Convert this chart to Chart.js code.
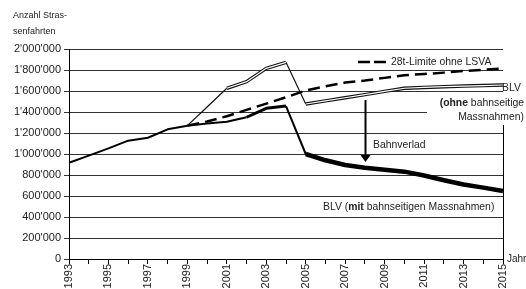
<!DOCTYPE html>
<html>
<head>
<meta charset="utf-8">
<script src="https://cdn.jsdelivr.net/npm/chart.js@4"></script>
<style>
  html, body { margin: 0; padding: 0; background: #fff; }
  #wrap { position: relative; width: 526px; height: 289px; }
</style>
</head>
<body>
<div id="wrap"><canvas id="lsvaChart" width="526" height="289"></canvas></div>
<script>
const years = ["1993","1994","1995","1996","1997","1998","1999","2000","2001","2002","2003","2004",
  "2005","2006","2007","2008","2009","2010","2011","2012","2013","2014","2015"];

// common history 1993-1999
const basis = [917000, 984000, 1054000, 1127000, 1155000, 1235000, 1270000,
  null, null, null, null, null, null, null, null, null, null, null, null, null, null, null, null];

const limite28t = [null, null, null, null, null, null, 1270000, 1310000, 1360000, 1420000, 1480000, 1540000,
  1605000, 1645000, 1680000, 1700000, 1725000, 1750000, 1762000, 1775000, 1790000, 1802000, 1815000];

const blvOhne = [null, null, null, null, null, null, 1270000, 1448000, 1626000, 1689000, 1816000, 1873000,
  1476000, 1506000, 1536000, 1566000, 1596000, 1626000, 1634000, 1641000, 1647000, 1652000, 1657000];

const blvMit = [null, null, null, null, null, null, 1270000, 1290000, 1308000, 1350000, 1435000, 1457000,
  1000000, 940000, 895000, 870000, 850000, 832000, 795000, 750000, 710000, 680000, 648000];

const yTicks = [0, 200000, 400000, 600000, 800000, 1000000, 1200000, 1400000, 1600000, 1800000, 2000000];

const FONT = "'Liberation Sans', Arial, sans-serif";
const NOTE = 10.4; // size of the notes inside the plot
const fmt = (v) => v.toString().replace(/\B(?=(\d{3})+(?!\d))/g, "'");

const labelsPlugin = {
  id: "labels",
  afterDraw(chart) {
    const ctx = chart.ctx;
    const x = chart.scales.x;
    const y = chart.scales.y;
    const area = chart.chartArea;
    ctx.save();

    // white box behind the "ohne" note, hides grid and right border
    ctx.fillStyle = "#fff";
    ctx.fillRect(427, 95, 99, 30);

    // right border below the note
    ctx.strokeStyle = "#000";
    ctx.lineWidth = 1;
    ctx.beginPath();
    ctx.moveTo(area.right + 0.5, 125);
    ctx.lineTo(area.right + 0.5, area.bottom);
    ctx.stroke();

    ctx.fillStyle = "#222";
    ctx.textBaseline = "middle";
    ctx.font = "9px " + FONT;
    ctx.textAlign = "left";
    ctx.fillText("Anzahl Stras-", 13, 16);
    ctx.fillText("senfahrten", 13, 32);
    ctx.font = "10px " + FONT;
    ctx.fillText("Jahr", area.right + 4, area.bottom);

    // legend for dashed line
    ctx.font = NOTE + "px " + FONT;
    ctx.strokeStyle = "#000";
    ctx.lineWidth = 2.5;
    ctx.setLineDash([12, 4]);
    ctx.beginPath();
    ctx.moveTo(358, 62);
    ctx.lineTo(389, 62);
    ctx.stroke();
    ctx.setLineDash([]);
    ctx.fillText("28t-Limite ohne LSVA", 391, 62);

    ctx.fillText("BLV", 502, 88);
    ctx.textAlign = "right";
    ctx.fillText("Massnahmen)", 524, 117);
    const rest = " bahnseitige";
    const restW = ctx.measureText(rest).width;
    ctx.fillText(rest, 524, 103);
    ctx.font = "bold " + NOTE + "px " + FONT;
    ctx.fillText("(ohne", 524 - restW, 103);

    // BLV mit
    ctx.textAlign = "left";
    ctx.font = NOTE + "px " + FONT;
    let px = 323;
    const py = 207;
    ctx.fillText("BLV (", px, py);
    px += ctx.measureText("BLV (").width;
    ctx.font = "bold " + NOTE + "px " + FONT;
    ctx.fillText("mit", px, py);
    px += ctx.measureText("mit").width;
    ctx.font = NOTE + "px " + FONT;
    ctx.fillText(" bahnseitigen Massnahmen)", px, py);

    ctx.fillText("Bahnverlad", 373, 145);

    // arrow Bahnverlad
    const ax = Math.round(x.getPixelForValue(years.indexOf("2008"))) + 0.5;
    const yTop = y.getPixelForValue(1514000);
    const yTip = y.getPixelForValue(925000);
    ctx.strokeStyle = "#000";
    ctx.lineWidth = 2;
    ctx.beginPath();
    ctx.moveTo(ax, yTop);
    ctx.lineTo(ax, yTip - 6);
    ctx.stroke();
    ctx.fillStyle = "#000";
    ctx.beginPath();
    ctx.moveTo(ax - 5, yTip - 7);
    ctx.lineTo(ax + 5, yTip - 7);
    ctx.lineTo(ax, yTip);
    ctx.closePath();
    ctx.fill();

    ctx.restore();
  },
};

const ctx = document.getElementById("lsvaChart").getContext("2d");
const lsvaChart = new Chart(ctx, {
  type: "line",
  data: {
    labels: years,
    datasets: [
      {
        label: "BLV ohne (innen)",
        data: blvOhne.map((v, i) => (i >= 8 ? v : null)),
        borderColor: "#fff",
        borderWidth: 1.2,
        segment: {
          borderColor: (c) => (c.p0DataIndex === 11 ? "rgba(0,0,0,0)" : "#fff"),
        },
        order: 0,
      },
      {
        label: "BLV ohne bahnseitige Massnahmen",
        data: blvOhne,
        borderColor: "#111",
        borderWidth: 3.4,
        segment: {
          borderWidth: (c) => (c.p0DataIndex < 8 || c.p0DataIndex === 11 ? 1.2 : 3.4),
        },
        order: 1,
      },
      {
        label: "28t-Limite ohne LSVA",
        data: limite28t,
        borderColor: "#000",
        borderWidth: 2.5,
        borderDash: [12, 6],
        order: 2,
      },
      {
        label: "BLV mit bahnseitigen Massnahmen",
        data: blvMit,
        borderColor: "#000",
        borderWidth: 4.5,
        segment: {
          borderWidth: (c) => (c.p0DataIndex < 9 ? 2 : c.p0DataIndex < 11 ? 3 : c.p0DataIndex === 11 ? 2 : 4.5),
        },
        order: 3,
      },
      {
        label: "Basis",
        data: basis,
        borderColor: "#000",
        borderWidth: 2,
        order: 4,
      },
    ],
  },
  options: {
    responsive: false,
    animation: false,
    events: [],
    layout: { padding: { top: 49, right: 23, left: 0, bottom: 0 } },
    elements: {
      line: { tension: 0, fill: false, borderJoinStyle: "round" },
      point: { radius: 0 },
    },
    plugins: {
      legend: { display: false },
      tooltip: { enabled: false },
    },
    scales: {
      x: {
        type: "category",
        offset: false,
        grid: { drawOnChartArea: false, drawTicks: true, tickLength: 5, color: "#000" },
        border: { color: "#000", width: 1 },
        ticks: {
          autoSkip: false,
          maxRotation: 90,
          minRotation: 90,
          padding: 0,
          color: "#222",
          font: { family: FONT, size: 11 },
          callback: (v, i) => (i % 2 === 0 ? years[i] : ""),
        },
        afterFit: (s) => { s.height = 30; },
      },
      y: {
        min: 0,
        max: 2000000,
        afterBuildTicks: (s) => { s.ticks = yTicks.map((v) => ({ value: v })); },
        grid: { color: "#333", tickLength: 5, lineWidth: 1 },
        border: { color: "#000", width: 1 },
        ticks: {
          padding: 3,
          color: "#222",
          font: { family: FONT, size: 11 },
          callback: (v) => fmt(v),
        },
        afterFit: (s) => { s.width = 69; },
      },
    },
  },
  plugins: [labelsPlugin],
});
</script>
</body>
</html>
